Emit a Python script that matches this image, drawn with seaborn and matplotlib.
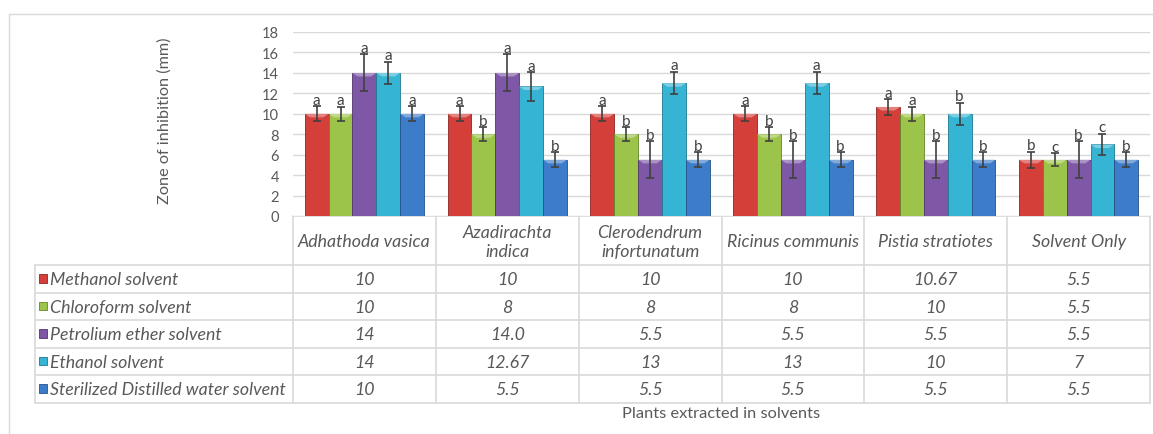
import pandas as pd
import matplotlib
matplotlib.use('Agg')
import matplotlib.pyplot as plt
import matplotlib.patches as mpatches
from matplotlib.colors import to_rgb
import seaborn as sns

# data
plants = ['Adhathoda vasica', 'Azadirachta indica', 'Clerodendrum infortunatum',
          'Ricinus communis', 'Pistia stratiotes', 'Solvent Only']
plant_headers = ['Adhathoda vasica', 'Azadirachta\nindica', 'Clerodendrum\ninfortunatum',
                 'Ricinus communis', 'Pistia stratiotes', 'Solvent Only']
solvents = ['Methanol solvent', 'Chloroform solvent', 'Petrolium ether solvent',
            'Ethanol solvent', 'Sterilized Distilled water solvent']

methanol = [10, 10, 10, 10, 10.67, 5.5]
chloroform = [10, 8, 8, 8, 10, 5.5]
petroleum = [14, 14.0, 5.5, 5.5, 5.5, 5.5]
ethanol = [14, 12.67, 13, 13, 10, 7]
water = [10, 5.5, 5.5, 5.5, 5.5, 5.5]

# labels as printed in the data table
methanol_txt = ['10', '10', '10', '10', '10.67', '5.5']
chloroform_txt = ['10', '8', '8', '8', '10', '5.5']
petroleum_txt = ['14', '14.0', '5.5', '5.5', '5.5', '5.5']
ethanol_txt = ['14', '12.67', '13', '13', '10', '7']
water_txt = ['10', '5.5', '5.5', '5.5', '5.5', '5.5']

# error bars (estimated)
methanol_err = [0.75, 0.75, 0.75, 0.75, 0.77, 0.78]
chloroform_err = [0.7, 0.7, 0.7, 0.7, 0.7, 0.65]
petroleum_err = [1.8, 1.8, 1.8, 1.8, 1.8, 1.8]
ethanol_err = [1.1, 1.4, 1.1, 1.1, 1.1, 1.05]
water_err = [0.75, 0.75, 0.75, 0.75, 0.75, 0.75]

# significance letters
methanol_sig = ['a', 'a', 'a', 'a', 'a', 'b']
chloroform_sig = ['a', 'b', 'b', 'b', 'a', 'c']
petroleum_sig = ['a', 'a', 'b', 'b', 'b', 'b']
ethanol_sig = ['a', 'a', 'a', 'a', 'b', 'c']
water_sig = ['a', 'b', 'b', 'b', 'b', 'b']

colors = ['#D43F3A', '#9DC44A', '#7E57A6', '#35B4D4', '#3C7CC8']
edges = ['#8E2523', '#66842B', '#523570', '#1F7A91', '#24528A']

W, H = 1153, 435
TEXT = '#595959'
GRID = '#D9D9D9'


def build_frame():
    values = [methanol, chloroform, petroleum, ethanol, water]
    rows = []
    for s, vals in zip(solvents, values):
        for p, v in zip(plants, vals):
            rows.append({'plant': p, 'solvent': s, 'zone': v})
    return pd.DataFrame(rows)


def lighten(c, f):
    r, g, b = to_rgb(c)
    return (r + (1 - r) * f, g + (1 - g) * f, b + (1 - b) * f)


def add_bevel(ax, bar, color):
    # light chevron on the top of each bar, like the excel bevel
    x0, w, h = bar.get_x(), bar.get_width(), bar.get_height()
    d, t = 0.22 * w, 0.35
    top = mpatches.Polygon([(x0, h), (x0 + w, h), (x0 + w - d, h - t), (x0 + d, h - t)],
                           closed=True, facecolor=lighten(color, 0.35), edgecolor='none',
                           zorder=bar.get_zorder() + 0.1)
    ax.add_patch(top)


def main():
    sns.set_style('white')
    plt.rcParams['font.family'] = ['Lato', 'DejaVu Sans']

    df = build_frame()
    fig = plt.figure(figsize=(W / 100, H / 100), dpi=100)

    left, right, top, bottom = 293, 1150, 33, 217
    ax = fig.add_axes([left / W, 1 - bottom / H, (right - left) / W, (bottom - top) / H])
    sns.barplot(data=df, x='plant', y='zone', hue='solvent', order=plants, hue_order=solvents,
                palette=colors, saturation=1, width=0.835, errorbar=None, legend=False, ax=ax)

    errs = [methanol_err, chloroform_err, petroleum_err, ethanol_err, water_err]
    sigs = [methanol_sig, chloroform_sig, petroleum_sig, ethanol_sig, water_sig]
    bar_groups = list(ax.containers)
    for i, cont in enumerate(bar_groups):
        xs, ys = [], []
        for bar in cont:
            bar.set_edgecolor(edges[i])
            bar.set_linewidth(0.6)
            add_bevel(ax, bar, colors[i])
            xs.append(bar.get_x() + bar.get_width() / 2)
            ys.append(bar.get_height())
        ax.errorbar(xs, ys, yerr=errs[i], fmt='none', ecolor='#404040',
                    elinewidth=1.2, capsize=3.2, capthick=1.2, zorder=5)
        for x, y, e, s in zip(xs, ys, errs[i], sigs[i]):
            ax.text(x, y + e - 0.05, s, ha='center', va='bottom', fontsize=11,
                    color='#404040', zorder=6)

    ax.set_xlim(-0.5, 5.5)
    ax.set_ylim(0, 18)
    ax.set_yticks(range(0, 19, 2))
    ax.set_xticks([])
    ax.set_xlabel('')
    ax.set_ylabel('')
    ax.yaxis.grid(True, color=GRID, lw=1)
    ax.set_axisbelow(True)
    ax.tick_params(axis='y', length=0, pad=10, labelsize=10.5, labelcolor=TEXT)
    for sp in ax.spines.values():
        sp.set_visible(False)

    fig.text(165 / W, 1 - 121 / H, 'Zone of inhibition (mm)', rotation=90,
             ha='center', va='center', fontsize=11.7, color=TEXT)

    # overlay in pixel coordinates for the data table and frame
    ov = fig.add_axes([0, 0, 1, 1], zorder=-1)
    ov.set_xlim(0, W)
    ov.set_ylim(H, 0)
    ov.axis('off')

    ov.plot([9, 9], [15, H], color=GRID, lw=1)
    ov.plot([9, W], [15, 15], color=GRID, lw=1)

    colw = (right - left) / len(plants)
    row_y = [bottom, 266, 293.5, 321, 348.5, 376, 403.5]
    tab_left = 35
    lw = 1.2
    # horizontal lines
    ov.plot([left, right], [row_y[0], row_y[0]], color=GRID, lw=lw)
    for y in row_y[1:]:
        ov.plot([tab_left, right], [y, y], color=GRID, lw=lw)
    # vertical lines
    for k in range(len(plants) + 1):
        x = left + k * colw
        ov.plot([x, x], [row_y[0], row_y[-1]], color=GRID, lw=lw)
    ov.plot([tab_left, tab_left], [row_y[1], row_y[-1]], color=GRID, lw=lw)

    for k, name in enumerate(plant_headers):
        ov.text(left + (k + 0.5) * colw, (row_y[0] + row_y[1]) / 2 + 1, name,
                ha='center', va='center', fontsize=12.8, style='italic', color=TEXT,
                linespacing=1.2)

    texts = [methanol_txt, chloroform_txt, petroleum_txt, ethanol_txt, water_txt]
    for r, (name, vals) in enumerate(zip(solvents, texts)):
        yc = (row_y[r + 1] + row_y[r + 2]) / 2
        ov.add_patch(mpatches.Rectangle((38.5, yc - 4.5), 8.5, 8.5, facecolor=colors[r],
                                        edgecolor=edges[r], lw=0.6))
        ov.text(50.5, yc + 0.5, name, ha='left', va='center', fontsize=12.8,
                style='italic', color=TEXT)
        for k, v in enumerate(vals):
            ov.text(left + (k + 0.5) * colw, yc + 0.5, v, ha='center', va='center',
                    fontsize=12.8, style='italic', color=TEXT)

    ov.text((left + right) / 2, 414, 'Plants extracted in solvents', ha='center',
            va='center', fontsize=11.8, color=TEXT)

    fig.savefig('out.png', dpi=100)


if __name__ == '__main__':
    main()
